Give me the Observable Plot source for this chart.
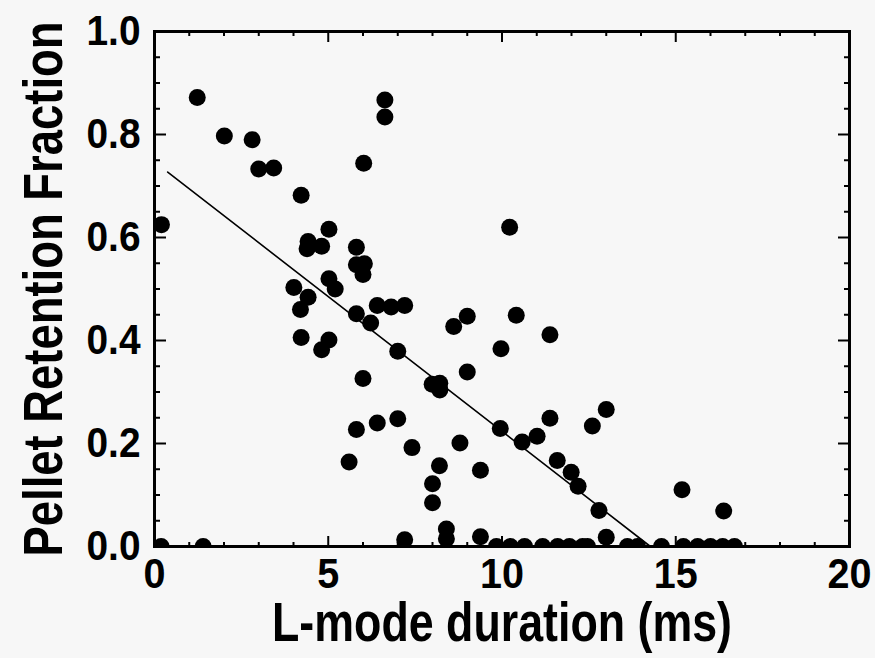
<!DOCTYPE html>
<html><head><meta charset="utf-8">
<script src="https://cdn.jsdelivr.net/npm/d3@7"></script>
<script src="https://cdn.jsdelivr.net/npm/@observablehq/plot@0.6"></script>
<style>
html,body{margin:0;padding:0;background:#f7f7f7;}
#chart svg{display:block;}
</style></head><body><div id="chart"></div>
<script>
// L-mode duration (ms) and pellet retention fraction
const durationMs = [
  0.2, 1.23, 2.01, 2.81, 3.0, 3.43, 4.22, 5.02, 4.42, 4.39,
  4.81, 5.81, 5.81, 6.04, 6.0, 6.02, 6.63, 6.63, 5.02, 5.2,
  4.01, 4.42, 4.2, 6.41, 6.81, 7.2, 5.81, 6.22, 8.61, 9.0,
  4.22, 5.02, 4.81, 7.0, 9.97, 6.0, 9.0, 7.99, 8.21, 8.21,
  9.95, 5.81, 6.41, 7.0, 7.41, 8.79, 5.6, 8.2, 9.38, 8.0,
  8.0, 8.4, 8.4, 9.38, 7.2, 10.41, 10.22, 11.38, 13.0, 12.6,
  11.38, 10.58, 11.01, 11.59, 11.99, 12.19, 12.79, 15.18, 16.38, 13.0,
  0.19, 1.4, 9.84, 10.24, 10.65, 11.17, 11.6, 11.94, 12.32, 12.46,
  13.61, 13.9, 14.59, 15.22, 15.63, 16.0, 16.35, 16.69
];
const retention = [
  0.625, 0.872, 0.797, 0.790, 0.733, 0.735, 0.682, 0.616, 0.592, 0.578,
  0.583, 0.581, 0.547, 0.549, 0.528, 0.744, 0.867, 0.834, 0.52, 0.50,
  0.503, 0.484, 0.46, 0.468, 0.465, 0.468, 0.452, 0.434, 0.427, 0.447,
  0.406, 0.401, 0.382, 0.379, 0.384, 0.326, 0.339, 0.315, 0.317, 0.304,
  0.229, 0.227, 0.24, 0.248, 0.192, 0.201, 0.164, 0.157, 0.148, 0.122,
  0.085, 0.034, 0.015, 0.019, 0.013, 0.449, 0.62, 0.411, 0.266, 0.234,
  0.249, 0.203, 0.214, 0.167, 0.144, 0.117, 0.07, 0.11, 0.069, 0.018,
  0, 0, 0, 0, 0, 0, 0, 0, 0, 0,
  0, 0, 0, 0, 0, 0, 0, 0
];
// linear fit line endpoints
const fitDuration = [0.38, 14.27];
const fitRetention = [0.727, 0];

const xMajorTicks = [0, 5, 10, 15, 20];
const xMinorTicks = [1, 2, 3, 4, 6, 7, 8, 9, 11, 12, 13, 14, 16, 17, 18, 19];
const yMajorTicks = [0, 0.2, 0.4, 0.6, 0.8, 1.0];
const yMinorTicks = [0.05, 0.1, 0.15, 0.25, 0.3, 0.35, 0.45, 0.5, 0.55, 0.65, 0.7, 0.75, 0.85, 0.9, 0.95];
const xLabel = "L-mode duration (ms)";
const yLabel = "Pellet Retention Fraction";

const points = durationMs.map((x, i) => ({x, y: retention[i]}));
const fit = fitDuration.map((x, i) => ({x, y: fitRetention[i]}));
const FONT = '"Liberation Sans", Arial, Helvetica, sans-serif';
const tk = {stroke: "#000", strokeWidth: 2, fill: "none", label: null};
const lbl = {tickSize: 0, fontSize: 42, fontWeight: "bold", fill: "#000", label: null};

const chart = Plot.plot({
  width: 875, height: 658,
  marginLeft: 154, marginRight: 26, marginTop: 31, marginBottom: 112,
  style: {background: "#f7f7f7", fontFamily: FONT, color: "#000"},
  x: {domain: [0, 20]},
  y: {domain: [0, 1]},
  marks: [
    Plot.dot(points, {x: "x", y: "y", r: 8.5, fill: "#000", stroke: "none", clip: true}),
    Plot.line(fit, {x: "x", y: "y", stroke: "#000", strokeWidth: 1.6}),
    Plot.axisX(xMajorTicks, {...tk, anchor: "bottom", tickSize: 10, dy: -10}),
    Plot.axisX(xMinorTicks, {...tk, anchor: "bottom", tickSize: 4, dy: -4}),
    Plot.axisX(xMajorTicks, {...tk, anchor: "top", tickSize: 10, dy: 10}),
    Plot.axisX(xMinorTicks, {...tk, anchor: "top", tickSize: 4, dy: 4}),
    Plot.axisY(yMajorTicks, {...tk, anchor: "left", tickSize: 12, dx: 12}),
    Plot.axisY(yMinorTicks, {...tk, anchor: "left", tickSize: 6, dx: 6}),
    Plot.axisY(yMajorTicks, {...tk, anchor: "right", tickSize: 12, dx: -12}),
    Plot.axisY(yMinorTicks, {...tk, anchor: "right", tickSize: 6, dx: -6}),
    Plot.axisX(xMajorTicks, {...lbl, anchor: "bottom", tickPadding: 12, tickFormat: d => String(d)}),
    Plot.axisY(yMajorTicks, {...lbl, anchor: "left", tickPadding: 14, tickFormat: d3.format(".1f")}),
    Plot.frame({stroke: "#000", strokeWidth: 3}),
    Plot.text([xLabel], {frameAnchor: "bottom", dy: 94, lineAnchor: "bottom", textAnchor: "middle", fontSize: 55, fontWeight: "bold", fill: "#000"}),
    Plot.text([yLabel], {frameAnchor: "left", dx: -93, rotate: -90, lineAnchor: "bottom", textAnchor: "middle", fontSize: 55, fontWeight: "bold", fill: "#000"})
  ]
});
document.getElementById("chart").append(chart);

// condense the bold text like the original narrow typeface
const charW = {".": 10};
const condense = (el, w) => { el.setAttribute("textLength", w); el.setAttribute("lengthAdjust", "spacingAndGlyphs"); };
chart.querySelectorAll('g[aria-label$="tick label"] text').forEach(t => {
  const s = t.textContent;
  condense(t, [...s].reduce((a, c) => a + (charW[c] || 22), 0));
});
chart.querySelectorAll('g[aria-label="text"] text').forEach(t => {
  if (t.textContent === xLabel) condense(t, 460);
  if (t.textContent === yLabel) condense(t, 535);
});
</script>
</body></html>
